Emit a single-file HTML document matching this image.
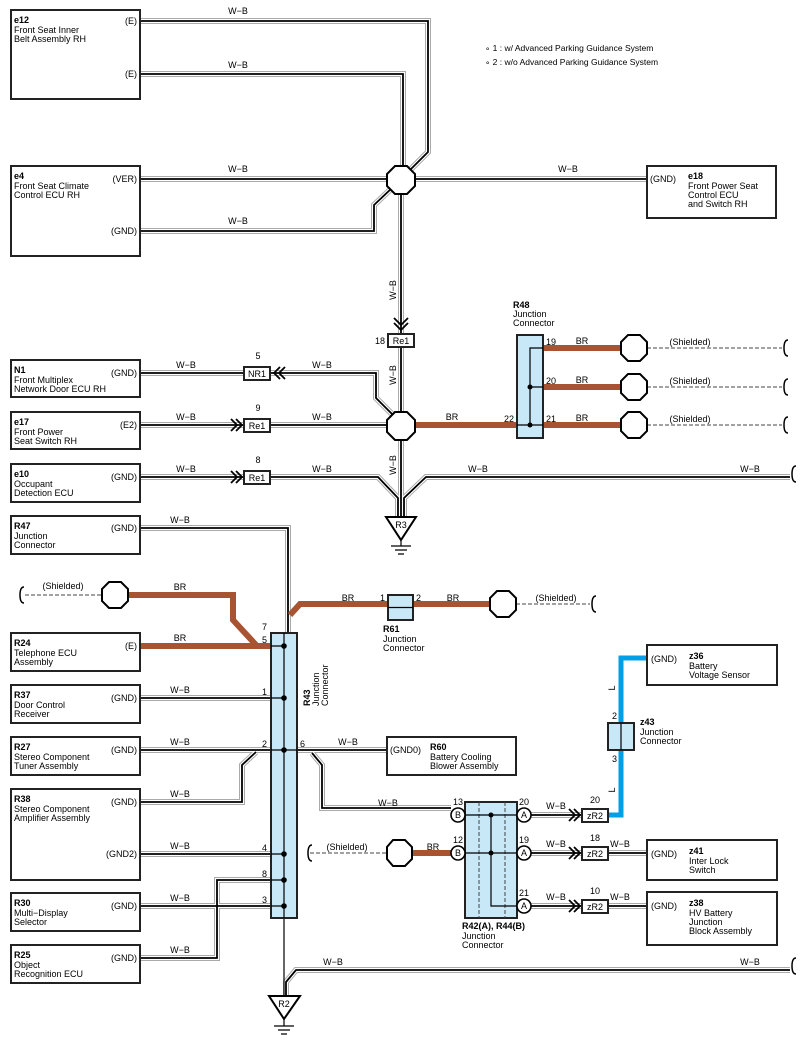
<!DOCTYPE html>
<html><head><meta charset="utf-8"><style>
body{margin:0;background:#fff}
svg{display:block;font-family:"Liberation Sans",sans-serif;font-size:9px}
.o{fill:none;stroke:#aaa;stroke-width:6}
.w{fill:none;stroke:#fff;stroke-width:4}
.k{fill:none;stroke:#000;stroke-width:1.8}
.br{fill:none;stroke:#a85432;stroke-width:6}
.bx{fill:#fff;stroke:#222;stroke-width:2}
.jc{fill:#c8e8f8;stroke:#222;stroke-width:2}
.oc{fill:#fff;stroke:#000;stroke-width:2}
.d{fill:none;stroke:#444;stroke-width:1;stroke-dasharray:4 2}
.ln{fill:none;stroke:#000;stroke-width:1.2}
</style></head><body>
<svg width="802" height="1050" viewBox="0 0 802 1050">
<defs>
<g id="wb">
<path d="M140 21H428V152L404 176"/>
<path d="M140 74H403V165"/>
<path d="M140 179H647"/>
<path d="M140 231H374V205L392 188"/>
<path d="M401 190V334"/>
<path d="M401 347V412"/>
<path d="M401 438V517"/>
<path d="M140 373H244"/><path d="M270 373H376V398L392 414"/>
<path d="M140 425H244"/><path d="M270 425H388"/>
<path d="M140 477H244"/><path d="M270 477H378L398 498V517"/>
<path d="M790 477H426L404 498V517"/>
<path d="M140 528H288V633"/>
<path d="M140 698H271"/>
<path d="M140 750H271"/><path d="M297 750H387"/>
<path d="M140 802H242V765L256 752"/>
<path d="M312 753L322 765V808H451"/>
<path d="M140 854H271"/>
<path d="M140 906H271"/>
<path d="M140 958H217V880H271"/>
<path d="M790 970H296L286 982V996"/>
<path d="M531 815H582"/><path d="M531 853H582"/><path d="M531 906H582"/>
<path d="M608 853H647"/><path d="M608 906H647"/>
</g>
</defs>
<use href="#wb" class="o"/><use href="#wb" class="w"/><use href="#wb" class="k"/>
<path class="ln" d="M284 918V996"/>
<path class="br" d="M414 425H517M543 348H621M543 387H621M543 425H621"/>
<path class="br" d="M128 595H233V620L257 646M140 646H271"/>
<path class="br" d="M290 615L300 604H388M413 604H490"/>
<path class="br" d="M400 853H451"/>
<path d="M608 815H621V658H647" fill="none" stroke="#00a0e9" stroke-width="5"/>
<path class="d" d="M647 348H782M647 387H782M647 425H782M25 595H102M516 604H590M310 853H387"/>
<g fill="none" stroke="#000" stroke-width="1.5">
<path d="M788 340q-4 0-4 8q0 8 4 8M788 379q-4 0-4 8q0 8 4 8M788 417q-4 0-4 8q0 8 4 8M24 587q-4 0-4 8q0 8 4 8M596 596q-4 0-4 8q0 8 4 8M312 845q-4 0-4 8q0 8 4 8M796 466q-4 0-4 8q0 8 4 8M796 958q-4 0-4 8q0 8 4 8"/>
</g>
<g class="oc">
<polygon points="395,166 407,166 415,174 415,186 407,194 395,194 387,186 387,174"/>
<polygon points="395,412 407,412 415,420 415,432 407,440 395,440 387,432 387,420"/>
<polygon points="628,335 640,335 647,342 647,354 640,361 628,361 621,354 621,342"/>
<polygon points="628,374 640,374 647,381 647,393 640,400 628,400 621,393 621,381"/>
<polygon points="628,412 640,412 647,419 647,431 640,438 628,438 621,431 621,419"/>
<polygon points="109,582 121,582 128,589 128,601 121,608 109,608 102,601 102,589"/>
<polygon points="497,591 509,591 516,598 516,610 509,617 497,617 490,610 490,598"/>
<polygon points="393,840 405,840 412,847 412,859 405,866 393,866 387,859 387,847"/>
</g>
<g fill="none" stroke="#000" stroke-width="1.8">
<path d="M394 318l7 7 7-7M394 323l7 7 7-7"/>
<path d="M280 367l-6 6 6 6M285 367l-6 6 6 6"/>
<path d="M231 419l6 6-6 6M236 419l6 6-6 6"/>
<path d="M231 471l6 6-6 6M236 471l6 6-6 6"/>
<path d="M569 809l6 6-6 6M574 809l6 6-6 6"/>
<path d="M569 847l6 6-6 6M574 847l6 6-6 6"/>
<path d="M569 900l6 6-6 6M574 900l6 6-6 6"/>
</g>
<g class="bx" stroke-width="1.6">
<rect x="388" y="334" width="26" height="13"/>
<rect x="244" y="367" width="26" height="13"/>
<rect x="244" y="419" width="26" height="13"/>
<rect x="244" y="471" width="26" height="13"/>
<rect x="582" y="809" width="26" height="13"/>
<rect x="582" y="847" width="26" height="13"/>
<rect x="582" y="900" width="26" height="13"/>
</g>
<g text-anchor="middle">
<text x="401" y="344">Re1</text><text x="257" y="377">NR1</text><text x="257" y="429">Re1</text><text x="257" y="481">Re1</text>
<text x="595" y="819">zR2</text><text x="595" y="857">zR2</text><text x="595" y="910">zR2</text>
</g>
<g class="oc"><polygon points="386,517 416,517 401,540"/><polygon points="269,996 300,996 284,1019"/></g>
<path class="ln" d="M401 540V546M391 546h20M395 550h12M398 554h6M284 1019V1026M274 1026h20M278 1030h12M281 1034h6"/>
<text x="401" y="528" text-anchor="middle">R3</text><text x="284" y="1007" text-anchor="middle">R2</text>
<rect class="jc" x="517" y="335" width="26" height="103"/>
<path class="ln" d="M543 348H530V425H517M530 387H543M530 425H543"/>
<circle cx="530" cy="387" r="2.5"/><circle cx="530" cy="425" r="2.5"/>
<rect class="jc" x="271" y="633" width="26" height="285"/>
<path class="ln" d="M284 633V918M271 646H284M271 698H284M271 750H297M271 854H284M271 880H284M271 906H284"/>
<g><circle cx="284" cy="646" r="2.8"/><circle cx="284" cy="698" r="2.8"/><circle cx="284" cy="750" r="2.8"/><circle cx="284" cy="854" r="2.8"/><circle cx="284" cy="880" r="2.8"/><circle cx="284" cy="906" r="2.8"/></g>
<rect class="jc" x="388" y="595" width="25" height="25"/><path class="ln" d="M388 607.5H413"/>
<rect class="jc" x="608" y="723" width="26" height="27"/><path class="ln" d="M621 723V750"/>
<rect class="jc" x="465" y="802" width="52" height="116"/>
<path class="d" d="M479 802V918M505 802V918" stroke="#222"/>
<path class="ln" d="M465 815H517M465 853H517M517 906H491V815"/>
<circle cx="491" cy="815" r="2.5"/><circle cx="491" cy="853" r="2.5"/>
<g fill="#fff" stroke="#000" stroke-width="1.6"><circle cx="458" cy="815" r="7"/><circle cx="458" cy="853" r="7"/><circle cx="524" cy="815" r="7"/><circle cx="524" cy="853" r="7"/><circle cx="524" cy="906" r="7"/></g>
<g text-anchor="middle"><text x="458" y="818">B</text><text x="458" y="856">B</text><text x="524" y="818">A</text><text x="524" y="856">A</text><text x="524" y="909">A</text></g>
<g class="bx">
<rect x="11" y="10" width="129" height="89"/><rect x="11" y="166" width="129" height="90"/>
<rect x="647" y="166" width="129" height="52"/>
<rect x="11" y="360" width="129" height="37"/><rect x="11" y="412" width="129" height="37"/>
<rect x="11" y="464" width="129" height="38"/><rect x="11" y="516" width="129" height="38"/>
<rect x="11" y="633" width="129" height="38"/><rect x="11" y="685" width="129" height="38"/>
<rect x="11" y="737" width="129" height="38"/><rect x="11" y="789" width="129" height="91"/>
<rect x="11" y="893" width="129" height="38"/><rect x="11" y="945" width="129" height="38"/>
<rect x="387" y="737" width="129" height="38"/>
<rect x="647" y="645" width="130" height="40"/>
<rect x="647" y="840" width="130" height="40"/><rect x="647" y="892" width="130" height="53"/>
</g>
<g font-size="9">
<text x="14" y="23"><tspan font-weight="bold">e12</tspan><tspan x="14" dy="10">Front Seat Inner</tspan><tspan x="14" dy="9">Belt Assembly RH</tspan></text>
<text x="14" y="179"><tspan font-weight="bold">e4</tspan><tspan x="14" dy="10">Front Seat Climate</tspan><tspan x="14" dy="9">Control ECU RH</tspan></text>
<text x="688" y="179"><tspan font-weight="bold">e18</tspan><tspan x="688" dy="10">Front Power Seat</tspan><tspan x="688" dy="9">Control ECU</tspan><tspan x="688" dy="9">and Switch RH</tspan></text>
<text x="14" y="373"><tspan font-weight="bold">N1</tspan><tspan x="14" dy="10">Front Multiplex</tspan><tspan x="14" dy="9">Network Door ECU RH</tspan></text>
<text x="14" y="425"><tspan font-weight="bold">e17</tspan><tspan x="14" dy="10">Front Power</tspan><tspan x="14" dy="9">Seat Switch RH</tspan></text>
<text x="14" y="477"><tspan font-weight="bold">e10</tspan><tspan x="14" dy="10">Occupant</tspan><tspan x="14" dy="9">Detection ECU</tspan></text>
<text x="14" y="529"><tspan font-weight="bold">R47</tspan><tspan x="14" dy="10">Junction</tspan><tspan x="14" dy="9">Connector</tspan></text>
<text x="14" y="646"><tspan font-weight="bold">R24</tspan><tspan x="14" dy="10">Telephone ECU</tspan><tspan x="14" dy="9">Assembly</tspan></text>
<text x="14" y="698"><tspan font-weight="bold">R37</tspan><tspan x="14" dy="10">Door Control</tspan><tspan x="14" dy="9">Receiver</tspan></text>
<text x="14" y="750"><tspan font-weight="bold">R27</tspan><tspan x="14" dy="10">Stereo Component</tspan><tspan x="14" dy="9">Tuner Assembly</tspan></text>
<text x="14" y="802"><tspan font-weight="bold">R38</tspan><tspan x="14" dy="10">Stereo Component</tspan><tspan x="14" dy="9">Amplifier Assembly</tspan></text>
<text x="14" y="906"><tspan font-weight="bold">R30</tspan><tspan x="14" dy="10">Multi−Display</tspan><tspan x="14" dy="9">Selector</tspan></text>
<text x="14" y="958"><tspan font-weight="bold">R25</tspan><tspan x="14" dy="10">Object</tspan><tspan x="14" dy="9">Recognition ECU</tspan></text>
<text x="430" y="750"><tspan font-weight="bold">R60</tspan><tspan x="430" dy="10">Battery Cooling</tspan><tspan x="430" dy="9">Blower Assembly</tspan></text>
<text x="689" y="659"><tspan font-weight="bold">z36</tspan><tspan x="689" dy="10">Battery</tspan><tspan x="689" dy="9">Voltage Sensor</tspan></text>
<text x="689" y="854"><tspan font-weight="bold">z41</tspan><tspan x="689" dy="10">Inter Lock</tspan><tspan x="689" dy="9">Switch</tspan></text>
<text x="689" y="906"><tspan font-weight="bold">z38</tspan><tspan x="689" dy="10">HV Battery</tspan><tspan x="689" dy="9">Junction</tspan><tspan x="689" dy="9">Block Assembly</tspan></text>
<text x="513" y="308"><tspan font-weight="bold">R48</tspan><tspan x="513" dy="9">Junction</tspan><tspan x="513" dy="9">Connector</tspan></text>
<text x="383" y="632"><tspan font-weight="bold">R61</tspan><tspan x="383" dy="10">Junction</tspan><tspan x="383" dy="9">Connector</tspan></text>
<text x="640" y="725"><tspan font-weight="bold">z43</tspan><tspan x="640" dy="10">Junction</tspan><tspan x="640" dy="9">Connector</tspan></text>
<text x="462" y="929"><tspan font-weight="bold">R42(A), R44(B)</tspan><tspan x="462" dy="10">Junction</tspan><tspan x="462" dy="9">Connector</tspan></text>
<text transform="translate(310,706) rotate(-90)"><tspan font-weight="bold">R43</tspan><tspan x="0" dy="9">Junction</tspan><tspan x="0" dy="9">Connector</tspan></text>
</g>
<g text-anchor="end">
<text x="137" y="24">(E)</text><text x="137" y="77">(E)</text><text x="137" y="182">(VER)</text><text x="137" y="234">(GND)</text>
<text x="137" y="376">(GND)</text><text x="137" y="428">(E2)</text><text x="137" y="480">(GND)</text><text x="137" y="531">(GND)</text>
<text x="137" y="649">(E)</text><text x="137" y="701">(GND)</text><text x="137" y="753">(GND)</text><text x="137" y="805">(GND)</text>
<text x="137" y="857">(GND2)</text><text x="137" y="909">(GND)</text><text x="137" y="961">(GND)</text>
<text x="385" y="344">18</text>
<text x="267" y="630">7</text><text x="267" y="643">5</text><text x="267" y="695">1</text><text x="267" y="747">2</text><text x="267" y="851">4</text><text x="267" y="877">8</text><text x="267" y="903">3</text>
<text x="514" y="422">22</text><text x="385" y="601">1</text>
</g>
<g text-anchor="middle">
<text x="458" y="805">13</text><text x="458" y="843">12</text>
<text x="524" y="805">20</text><text x="524" y="843">19</text><text x="524" y="896">21</text>
</g>
<g>
<text x="650" y="182">(GND)</text><text x="390" y="753">(GND0)</text><text x="651" y="662">(GND)</text><text x="651" y="857">(GND)</text><text x="651" y="909">(GND)</text>
<text x="300" y="747">6</text><text x="416" y="601">2</text>
<text x="546" y="345">19</text><text x="546" y="384">20</text><text x="546" y="422">21</text>
<text x="612" y="719">2</text><text x="612" y="762">3</text>
<text x="590" y="803">20</text><text x="590" y="841">18</text><text x="590" y="894">10</text>
</g>
<g text-anchor="middle">
<text x="238" y="14">W−B</text><text x="238" y="68">W−B</text><text x="238" y="172">W−B</text><text x="238" y="224">W−B</text><text x="568" y="172">W−B</text>
<text x="186" y="368">W−B</text><text x="322" y="368">W−B</text><text x="186" y="420">W−B</text><text x="322" y="420">W−B</text>
<text x="186" y="472">W−B</text><text x="322" y="472">W−B</text><text x="478" y="472">W−B</text><text x="750" y="472">W−B</text>
<text x="180" y="523">W−B</text><text x="180" y="693">W−B</text><text x="180" y="745">W−B</text><text x="180" y="797">W−B</text>
<text x="180" y="849">W−B</text><text x="180" y="901">W−B</text><text x="180" y="953">W−B</text><text x="348" y="745">W−B</text>
<text x="388" y="806">W−B</text><text x="556" y="809">W−B</text><text x="556" y="847">W−B</text><text x="556" y="900">W−B</text>
<text x="620" y="847">W−B</text><text x="620" y="900">W−B</text><text x="333" y="965">W−B</text><text x="750" y="965">W−B</text>
<text x="258" y="359">5</text><text x="258" y="411">9</text><text x="258" y="463">8</text>
<text x="180" y="590">BR</text><text x="180" y="641">BR</text><text x="348" y="601">BR</text><text x="453" y="601">BR</text>
<text x="452" y="420">BR</text><text x="582" y="344">BR</text><text x="582" y="383">BR</text><text x="582" y="421">BR</text><text x="433" y="850">BR</text>
<text x="63" y="589">(Shielded)</text><text x="556" y="601">(Shielded)</text><text x="347" y="850">(Shielded)</text>
<text x="690" y="345">(Shielded)</text><text x="690" y="384">(Shielded)</text><text x="690" y="422">(Shielded)</text>
</g>
<text transform="translate(396,290) rotate(-90)" text-anchor="middle">W−B</text>
<text transform="translate(396,375) rotate(-90)" text-anchor="middle">W−B</text>
<text transform="translate(396,465) rotate(-90)" text-anchor="middle">W−B</text>
<text transform="translate(615,688) rotate(-90)" text-anchor="middle">L</text>
<text transform="translate(615,790) rotate(-90)" text-anchor="middle">L</text>
<text x="485" y="51" font-size="8.5">∘ 1 : w/ Advanced Parking Guidance System</text>
<text x="485" y="65" font-size="8.5">∘ 2 : w/o Advanced Parking Guidance System</text>
</svg>
</body></html>
